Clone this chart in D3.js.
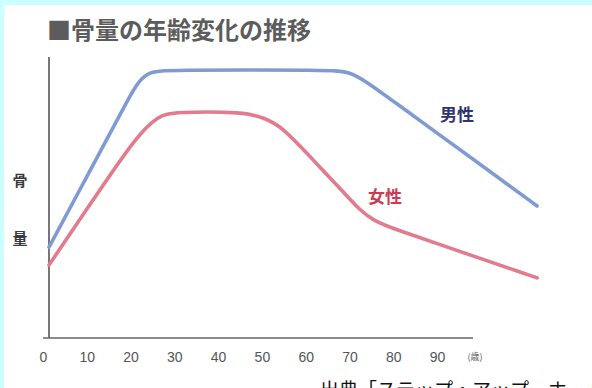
<!DOCTYPE html>
<html>
<head>
<meta charset="utf-8">
<script src="https://cdn.jsdelivr.net/npm/d3@7"></script>
<style>
  html, body { margin: 0; padding: 0; background: #fff; }
  #chart { width: 592px; height: 388px; overflow: hidden; }
</style>
</head>
<body>
<div id="chart"></div>
<script>
// 骨量の年齢変化 (arbitrary units 0-100)
const maleAges = [0, 10, 15, 18, 20.5, 23, 26, 65, 68.5, 72, 80, 90, 100, 111.5]
const maleBone = [32.1, 61.2, 75.8, 84.6, 91.6, 94.6, 95.4, 95.4, 94.6, 91.8, 82.7, 71.3, 59.9, 46.8]
const femaleAges = [0, 10, 20, 25, 28.5, 45, 49, 53, 60, 68, 71, 74, 79.5, 91, 111.5]
const femaleBone = [25.7, 48.8, 71.8, 79, 80.4, 80.4, 78.2, 75.5, 63.8, 50.5, 45.4, 41.6, 38.2, 32.1, 21.1]
const xTicks = [0, 10, 20, 30, 40, 50, 60, 70, 80, 90]
const seriesNames = ['男性', '女性']
const titleText = '■骨量の年齢変化の推移'
const yLabel = ['骨', '量']
const unitText = '(歳)'
const sourceText = '出典「ステップ・アップ　ホームページ　骨と健康」'

const width = 592
const height = 388
const cjk = '"Noto Sans CJK JP", "Noto Sans", sans-serif'

const svg = d3.select('#chart').append('svg')
  .attr('width', width)
  .attr('height', height)

// light cyan frame on top and left
svg.append('rect').attr('x', 0).attr('y', 0).attr('width', width).attr('height', 5).attr('fill', '#ccffff')
svg.append('rect').attr('x', 0).attr('y', 0).attr('width', 4).attr('height', height).attr('fill', '#ccffff')

const x = d3.scaleLinear().domain([0, 90]).range([49, 443])
const y = d3.scaleLinear().domain([0, 100]).range([337, 57])

// title
svg.append('text')
  .attr('x', 47)
  .attr('y', 39)
  .attr('font-family', cjk)
  .attr('font-size', 24)
  .attr('font-weight', 'bold')
  .attr('fill', '#5c5c5c')
  .text(titleText)

// axes
svg.append('line')
  .attr('x1', 49).attr('x2', 49)
  .attr('y1', 57).attr('y2', 338)
  .attr('stroke', '#555').attr('stroke-width', 1.6)

svg.append('line')
  .attr('x1', 43).attr('x2', 473)
  .attr('y1', 338).attr('y2', 338)
  .attr('stroke', '#666').attr('stroke-width', 1.6)

const xAxis = svg.append('g')
  .attr('transform', 'translate(0 338)')
  .call(d3.axisBottom(x).tickValues(xTicks).tickSize(0).tickPadding(14))

xAxis.select('.domain').remove()
xAxis.selectAll('text')
  .attr('dx', -6)
  .attr('font-family', '"Liberation Sans", Arial, sans-serif')
  .attr('font-size', 14)
  .attr('fill', '#555')

svg.append('text')
  .attr('x', 475)
  .attr('y', 360)
  .attr('text-anchor', 'middle')
  .attr('font-family', cjk)
  .attr('font-size', 9)
  .attr('fill', '#555')
  .text(unitText)

// y label
svg.selectAll('.ylab')
  .data(yLabel)
  .enter()
  .append('text')
  .attr('class', 'ylab')
  .attr('x', 20)
  .attr('y', (d, i) => 186 + i * 58)
  .attr('text-anchor', 'middle')
  .attr('font-family', cjk)
  .attr('font-size', 15)
  .attr('font-weight', 'bold')
  .attr('fill', '#3a3a3a')
  .text((d) => d)

// curves
const line = d3.line()
  .x((d) => x(d[0]))
  .y((d) => y(d[1]))
  .curve(d3.curveBasis)

const series = [
  { name: seriesNames[0], pts: d3.zip(maleAges, maleBone), color: '#7f9bd2', text: '#2f3470', lx: 457, ly: 121 },
  { name: seriesNames[1], pts: d3.zip(femaleAges, femaleBone), color: '#e27b8e', text: '#cc3b55', lx: 385, ly: 203 },
]

svg.selectAll('.curve')
  .data(series)
  .enter()
  .append('path')
  .attr('class', 'curve')
  .attr('d', (d) => line(d.pts))
  .attr('fill', 'none')
  .attr('stroke', (d) => d.color)
  .attr('stroke-width', 3.6)
  .attr('stroke-linecap', 'round')

svg.selectAll('.slab')
  .data(series)
  .enter()
  .append('text')
  .attr('class', 'slab')
  .attr('x', (d) => d.lx)
  .attr('y', (d) => d.ly)
  .attr('text-anchor', 'middle')
  .attr('font-family', cjk)
  .attr('font-size', 17)
  .attr('font-weight', 'bold')
  .attr('fill', (d) => d.text)
  .text((d) => d.name)

// source line, mostly cut off at the bottom edge (as in the original)
svg.append('text')
  .attr('x', 320)
  .attr('y', 397)
  .attr('font-family', cjk)
  .attr('font-size', 19)
  .attr('fill', '#111')
  .text(sourceText)
</script>
</body>
</html>
